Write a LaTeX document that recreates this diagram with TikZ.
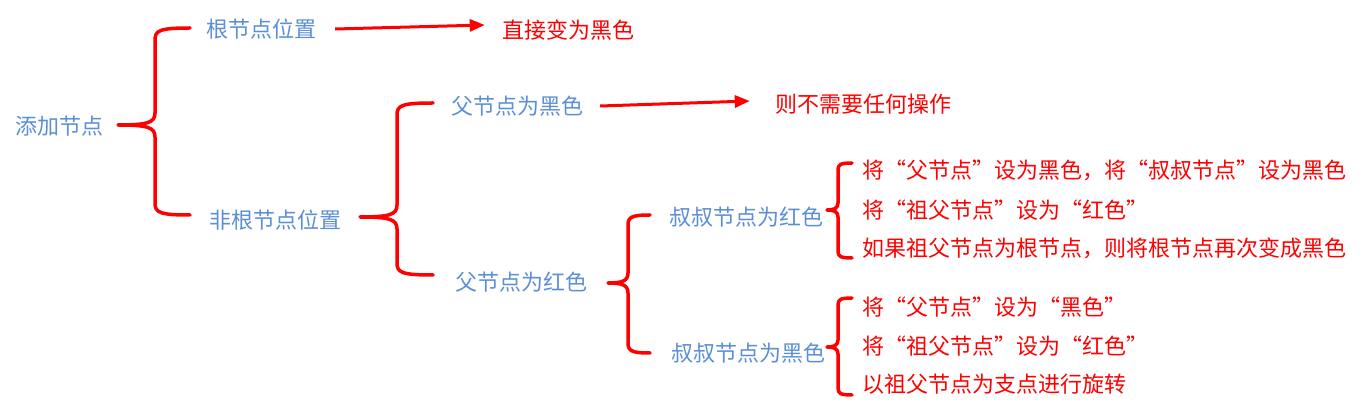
\documentclass[tikz,border=0pt]{standalone}
\usepackage{fontspec}
\setmainfont{Noto Sans CJK SC}
\usetikzlibrary{arrows.meta}
\definecolor{nblue}{RGB}{91,143,214}
\definecolor{nred}{RGB}{255,0,0}
\tikzset{
 lab/.style={font=\fontsize{22}{26}\selectfont, inner sep=0pt, text height=19.4pt, text depth=2.6pt},
 bl/.style={lab, text=nblue},
 rd/.style={lab, text=nred},
 bracepath/.style={draw=nred, line width=3.5pt, line cap=round, line join=round},
 arr/.style={draw=nred, line width=3pt, -{Triangle[length=15pt,width=12pt]}},
}
% tipx, midy, vx, endx, topy, boty, radius
\newcommand\mybrace[7]{%
 \draw[bracepath] (#4,#5) .. controls (#3+#7*0.4,#5) and (#3,#5+#7*0.2) .. (#3,#5+#7) -- (#3,#2-#7)
   .. controls (#3,#2-#7*0.2) and (#3-#7*0.6,#2) .. (#1,#2)
   .. controls (#3-#7*0.6,#2) and (#3,#2+#7*0.2) .. (#3,#2+#7) -- (#3,#6-#7)
   .. controls (#3,#6-#7*0.2) and (#3+#7*0.4,#6) .. (#4,#6);}
\begin{document}
\begin{tikzpicture}[x=1pt,y=-1pt]
\useasboundingbox (0,0) rectangle (1365,411);
\node[bl] (add) at (60,126) {添加节点};
\node[bl] (root) at (261,29) {根节点位置};
\node[rd] (direct) at (568,30) {直接变为黑色};
\node[bl] (nonroot) at (275,220) {非根节点位置};
\node[bl] (pblack) at (517,106) {父节点为黑色};
\node[rd] (noop) at (863,104) {则不需要任何操作};
\node[bl] (pred) at (521,282) {父节点为红色};
\node[bl] (ured) at (746,217) {叔叔节点为红色};
\node[bl] (ublack) at (748,353) {叔叔节点为黑色};
\node[rd, anchor=west] (r1) at (862,170) {将“父节点”设为黑色，将“叔叔节点”设为黑色};
\node[rd, anchor=west] (r2) at (862,210) {将“祖父节点”设为“红色”};
\node[rd, anchor=west] (r3) at (862,248) {如果祖父节点为根节点，则将根节点再次变成黑色};
\node[rd, anchor=west] (r4) at (862,307) {将“父节点”设为“黑色”};
\node[rd, anchor=west] (r5) at (862,346) {将“祖父节点”设为“红色”};
\node[rd, anchor=west] (r6) at (862,384) {以祖父节点为支点进行旋转};

\mybrace{118}{125}{155}{190}{28}{215}{12}
\mybrace{360}{217}{397}{433}{103}{275}{12}
\mybrace{608}{283}{628}{650}{215}{353}{10}
\mybrace{827}{210}{838}{852}{163}{258}{7}
\mybrace{827}{347}{838}{852}{298}{395}{7}

\draw[arr] ([shift={(19,0)}]root.east) -- ([shift={(-17,-5)}]direct.west);
\draw[arr] ([shift={(17,0)}]pblack.east) -- ([shift={(-25,-3)}]noop.west);
\end{tikzpicture}
\end{document}
